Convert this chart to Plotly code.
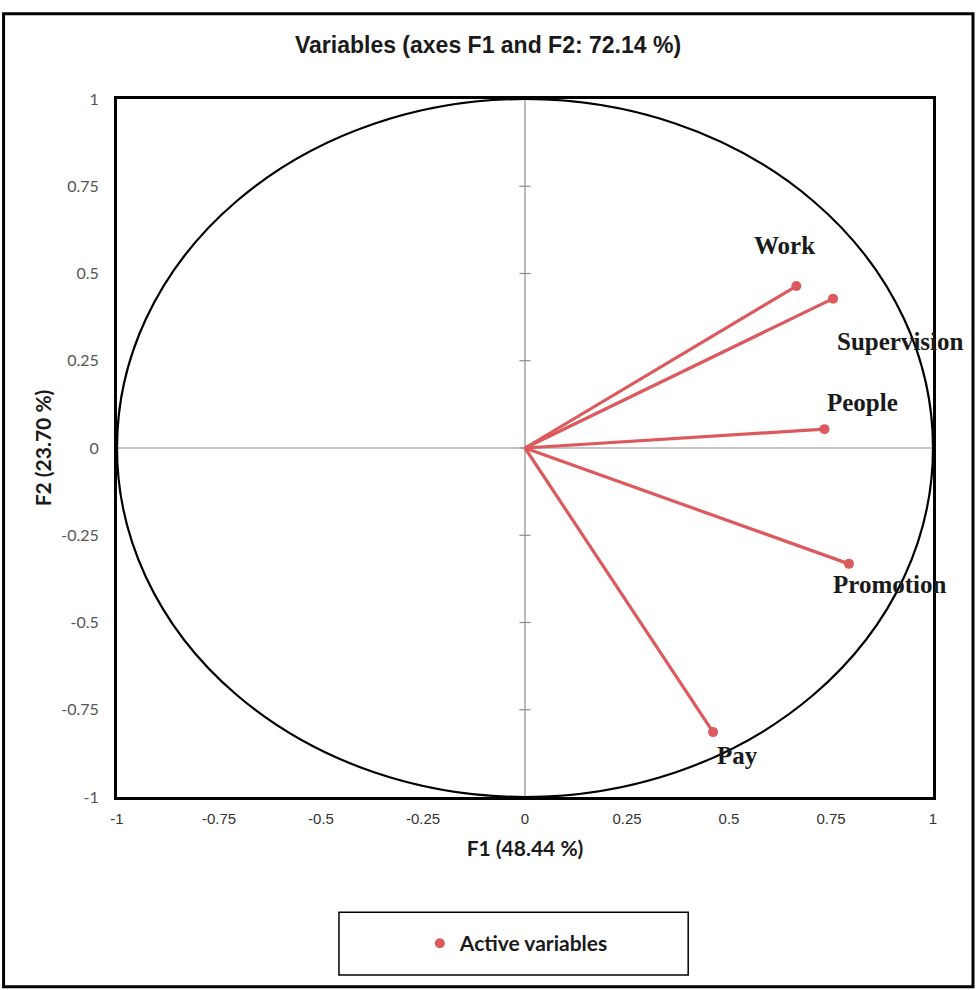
import plotly.graph_objects as go

variables = ["Work", "Supervision", "People", "Promotion", "Pay"]
f1 = [0.665, 0.755, 0.734, 0.794, 0.461]
f2 = [0.464, 0.428, 0.054, -0.332, -0.814]
label_x = [0.635, 0.92, 0.826, 0.895, 0.52]
label_y = [0.58, 0.305, 0.13, -0.39, -0.88]
tick_vals = [-1, -0.75, -0.5, -0.25, 0, 0.25, 0.5, 0.75, 1]
tick_text = ["-1", "-0.75", "-0.5", "-0.25", "0", "0.25", "0.5", "0.75", "1"]

RED = "#DC5A5E"
fig = go.Figure()

# zero axes
fig.add_trace(go.Scatter(x=[-1, 1], y=[0, 0], mode="lines",
                         line=dict(color="#8c8c8c", width=1.2), showlegend=False, hoverinfo="skip"))
fig.add_trace(go.Scatter(x=[0, 0], y=[-1, 1], mode="lines",
                         line=dict(color="#8c8c8c", width=1.2), showlegend=False, hoverinfo="skip"))
# tick marks on vertical axis
fig.add_trace(go.Scatter(x=[0] * len(tick_vals), y=tick_vals, mode="markers",
                         marker=dict(symbol="line-ew", size=8, line=dict(color="#8c8c8c", width=1.2)),
                         showlegend=False, hoverinfo="skip"))

# vectors
for i, name in enumerate(variables):
    fig.add_trace(go.Scatter(x=[0, f1[i]], y=[0, f2[i]], mode="lines",
                             line=dict(color=RED, width=3.2), showlegend=False, hoverinfo="skip"))

fig.add_trace(go.Scatter(x=f1, y=f2, mode="markers", name="<b>Active variables</b>",
                         marker=dict(color=RED, size=10)))

for i, name in enumerate(variables):
    fig.add_annotation(x=label_x[i], y=label_y[i], text="<b>" + name + "</b>", showarrow=False,
                       font=dict(family="Liberation Serif", size=25, color="#1a1a1a"))

# correlation circle
fig.add_shape(type="circle", xref="x", yref="y", x0=-1, x1=1, y0=-1, y1=1,
              line=dict(color="black", width=2.2), layer="above")

# legend box
fig.add_shape(type="rect", xref="paper", yref="paper", x0=0.272, x1=0.700, y0=-0.255, y1=-0.165,
              line=dict(color="black", width=1.5))
# outer frame
fig.add_shape(type="rect", xref="paper", yref="paper", x0=-0.139, x1=1.049, y0=-0.272, y1=1.122,
              line=dict(color="black", width=3))

fig.update_layout(
    width=976, height=990,
    margin=dict(l=117, r=43, t=99, b=193),
    paper_bgcolor="white", plot_bgcolor="white",
    title=dict(text="<b>Variables (axes F1 and F2: 72.14 %)</b>", x=0.5, xref="container",
               y=0.955, yref="container", xanchor="center", yanchor="middle",
               font=dict(family="Liberation Sans", size=23, color="#1a1a1a")),
    xaxis=dict(range=[-1, 1], tickvals=tick_vals, ticktext=tick_text, showgrid=False, zeroline=False,
               showline=True, linecolor="black", linewidth=3, mirror=True, ticks="",
               ticklabelstandoff=6,
               tickfont=dict(family="Liberation Sans", size=15, color="#333333"),
               title=dict(text="<b>F1 (48.44 %)</b>", standoff=16,
                          font=dict(family="Lato", size=21, color="#1a1a1a"))),
    yaxis=dict(range=[-1, 1], tickvals=tick_vals, ticktext=tick_text, showgrid=False, zeroline=False,
               showline=True, linecolor="black", linewidth=3, mirror=True, ticks="",
               ticklabelstandoff=12,
               tickfont=dict(family="Lato", size=16, color="#555555"),
               title=dict(text="<b>F2 (23.70 %)</b>", standoff=4,
                          font=dict(family="Lato", size=21, color="#1a1a1a"))),
    showlegend=True,
    legend=dict(x=0.49, y=-0.21, xanchor="center", yanchor="middle", bgcolor="rgba(0,0,0,0)",
                font=dict(family="Lato", size=21, color="#1a1a1a"), itemwidth=30),
)

fig.write_html("out.html")
